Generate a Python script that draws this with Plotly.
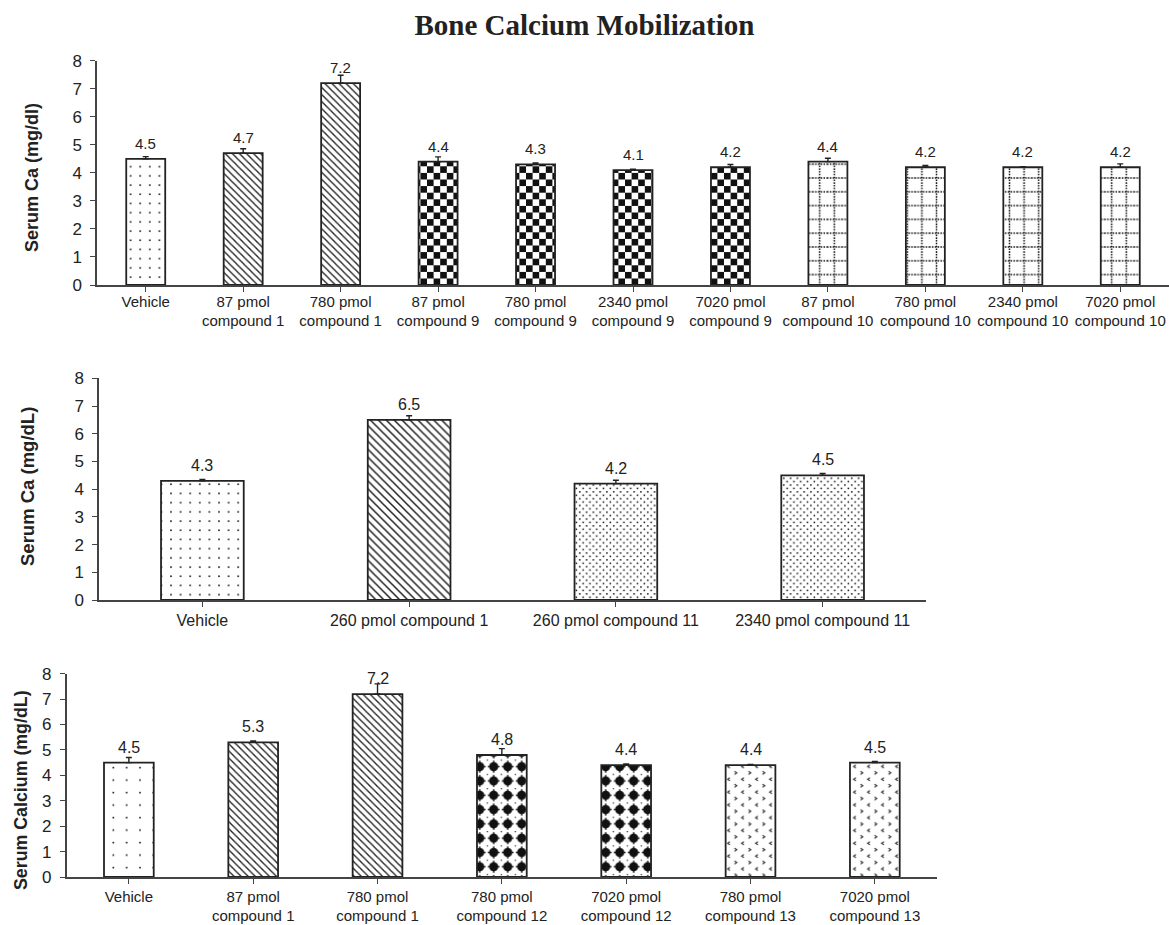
import json
import plotly.graph_objects as go

W, H = 1169, 925

# ---- Panel 1: compounds 1, 9, 10 ----
p1_labels = ["Vehicle", "87 pmol<br>compound 1", "780 pmol<br>compound 1",
             "87 pmol<br>compound 9", "780 pmol<br>compound 9",
             "2340 pmol<br>compound 9", "7020 pmol<br>compound 9",
             "87 pmol<br>compound 10", "780 pmol<br>compound 10",
             "2340 pmol<br>compound 10", "7020 pmol<br>compound 10"]
p1_values = [4.5, 4.7, 7.2, 4.4, 4.3, 4.1, 4.2, 4.4, 4.2, 4.2, 4.2]
p1_errors = [0.08, 0.16, 0.28, 0.17, 0.05, 0.03, 0.10, 0.12, 0.06, 0.02, 0.12]
p1_fills = ["dots", "stripes", "stripes", "checker", "checker", "checker",
            "checker", "dotgrid", "dotgrid", "dotgrid", "dotgrid"]

# ---- Panel 2: compounds 1, 11 ----
p2_labels = ["Vehicle", "260 pmol compound 1", "260 pmol compound 11",
             "2340 pmol compound 11"]
p2_values = [4.3, 6.5, 4.2, 4.5]
p2_errors = [0.05, 0.15, 0.12, 0.07]
p2_fills = ["dots", "stripes_wide", "fine_dots", "fine_dots"]

# ---- Panel 3: compounds 1, 12, 13 ----
p3_labels = ["Vehicle", "87 pmol<br>compound 1", "780 pmol<br>compound 1",
             "780 pmol<br>compound 12", "7020 pmol<br>compound 12",
             "780 pmol<br>compound 13", "7020 pmol<br>compound 13"]
p3_values = [4.5, 5.3, 7.2, 4.8, 4.4, 4.4, 4.5]
p3_errors = [0.20, 0.05, 0.40, 0.25, 0.05, 0.03, 0.05]
p3_fills = ["dots_wide", "stripes", "stripes", "blobs", "blobs",
            "chevrons", "chevrons"]

INK = "#222222"
AXIS = "#444444"
FONT = "Arial, 'Liberation Sans', sans-serif"

# fill styles: native plotly pattern (shape, size, solidity) plus a unique
# background colour that tags the tile for the custom textures below
fill_styles = {
    "stripes":      dict(shape="\\", size=5.0, solidity=0.27, bg="#ffffff"),
    "stripes_wide": dict(shape="\\", size=5.6, solidity=0.27, bg="#ffffff"),
    "dots":         dict(shape=".", size=9, solidity=0.05, bg="#fffffe"),
    "dots_wide":    dict(shape=".", size=9, solidity=0.05, bg="#fffeff"),
    "checker":      dict(shape=".", size=9, solidity=0.05, bg="#feffff"),
    "dotgrid":      dict(shape=".", size=9, solidity=0.05, bg="#fefeff"),
    "fine_dots":    dict(shape=".", size=9, solidity=0.05, bg="#fffefe"),
    "blobs":        dict(shape=".", size=9, solidity=0.05, bg="#fefefe"),
    "chevrons":     dict(shape=".", size=9, solidity=0.05, bg="#fdfefe"),
}

# custom SVG tiles for textures plotly has no built-in shape for
custom_tiles = {
    "dots": (9.6, 9.2,
             '<rect width="9.6" height="9.2" fill="#fff"/>'
             '<rect x="4" y="4" width="1.6" height="1.6" fill="#1a1a1a"/>'),
    "dots_wide": (13.3, 12.5,
                  '<rect width="13.3" height="12.5" fill="#fff"/>'
                  '<rect x="6" y="5.6" width="1.6" height="1.6" fill="#1a1a1a"/>'),
    "checker": (13.2, 13.2,
                '<rect width="13.2" height="13.2" fill="#fff"/>'
                '<rect width="6.6" height="6.6" fill="#111"/>'
                '<rect x="6.6" y="6.6" width="6.6" height="6.6" fill="#111"/>'),
    "dotgrid": (14.6, 13.8,
                '<rect width="14.6" height="13.8" fill="#fff"/>'
                '<path d="M7.3,0V13.8M0,6.9H14.6" stroke="#111" stroke-width="1.5" '
                'stroke-dasharray="1.5,1.3" fill="none"/>'),
    "fine_dots": (6.8, 6.8,
                  '<rect width="6.8" height="6.8" fill="#fff"/>'
                  '<rect x="0.6" y="0.6" width="1.5" height="1.5" fill="#111"/>'
                  '<rect x="4" y="4" width="1.5" height="1.5" fill="#111"/>'),
    "blobs": (14, 14.3,
              '<rect width="14" height="14.3" fill="#fff"/>'
              '<circle cx="7" cy="7.15" r="4.6" fill="#111"/>'
              '<path d="M7,1.3V13M1.2,7.15H12.8" stroke="#111" stroke-width="1.5"/>'
              '<rect x="0" y="0" width="1.2" height="1.2" fill="#222"/>'),
    "chevrons": (14, 12.8,
                 '<rect width="14" height="12.8" fill="#fff"/>'
                 '<path d="M5.2,1.6L3,3.2L5.2,4.8M9.8,8L12,9.6L9.8,11.2" '
                 'stroke="#222" stroke-width="1.2" fill="none"/>'),
}


def hex_to_rgb_key(h):
    h = h.lstrip("#")
    return "rgb(%d,%d,%d)" % (int(h[0:2], 16), int(h[2:4], 16), int(h[4:6], 16))


tiles_js = {}
for name, (tw, th, svg) in custom_tiles.items():
    tiles_js[hex_to_rgb_key(fill_styles[name]["bg"])] = {"w": tw, "h": th, "svg": svg}

# pixel geometry of the three panels -> paper domains
panels = [
    dict(labels=p1_labels, values=p1_values, errors=p1_errors, fills=p1_fills,
         x0=97, x1=1169, y0=285, y8=60.7, xstand=-3, xfont=15, vfont=15),
    dict(labels=p2_labels, values=p2_values, errors=p2_errors, fills=p2_fills,
         x0=99, x1=926, y0=600, y8=378.3, xstand=0, xfont=16, vfont=16),
    dict(labels=p3_labels, values=p3_values, errors=p3_errors, fills=p3_fills,
         x0=66.7, x1=937, y0=877, y8=673.7, xstand=0, xfont=15, vfont=16),
]

fig = go.Figure()
annotations = []

for k, p in enumerate(panels, start=1):
    xa = "x" if k == 1 else "x%d" % k
    ya = "y" if k == 1 else "y%d" % k
    styles = [fill_styles[f] for f in p["fills"]]
    n = len(p["labels"])
    fig.add_trace(go.Bar(
        x=list(range(n)),
        y=p["values"],
        width=0.4,
        xaxis=xa, yaxis=ya,
        marker=dict(
            color="white",
            line=dict(color=INK, width=1.8),
            pattern=dict(
                shape=[s["shape"] for s in styles],
                size=[s["size"] for s in styles],
                solidity=[s["solidity"] for s in styles],
                bgcolor=[s["bg"] for s in styles],
                fgcolor=INK,
                fillmode="replace",
            ),
        ),
        error_y=dict(type="data", symmetric=False, array=p["errors"],
                     arrayminus=[0] * n, color=INK, thickness=1.4, width=3),
        showlegend=False,
        hoverinfo="skip",
    ))
    for i, v in enumerate(p["values"]):
        annotations.append(dict(
            x=i, y=v, xref=xa, yref=ya, text="%.1f" % v, showarrow=False,
            yanchor="bottom", yshift=5,
            font=dict(family=FONT, size=p["vfont"], color=INK),
        ))

    dom_x = [p["x0"] / W, min(p["x1"] / W, 1.0)]
    dom_y = [(H - p["y0"]) / H, (H - p["y8"]) / H]
    xkey = "xaxis" if k == 1 else "xaxis%d" % k
    ykey = "yaxis" if k == 1 else "yaxis%d" % k
    fig.update_layout(**{
        xkey: dict(
            domain=dom_x, anchor=ya, range=[-0.5, n - 0.5], automargin=False,
            tickmode="array", tickvals=list(range(n)), ticktext=p["labels"],
            tickson="boundaries", ticks="outside", ticklen=5, tickwidth=1.3,
            tickcolor=AXIS, showline=True, linecolor=AXIS, linewidth=1.5,
            showgrid=False, zeroline=False, fixedrange=True,
            ticklabelstandoff=p["xstand"],
            tickfont=dict(family=FONT, size=p["xfont"], color=INK),
        ),
        ykey: dict(
            domain=dom_y, anchor=xa, range=[0, 8], dtick=1, tick0=0,
            automargin=False,
            ticks="outside", ticklen=5, tickwidth=1.3, tickcolor=AXIS,
            showline=True, linecolor=AXIS, linewidth=1.5,
            showgrid=False, zeroline=False, fixedrange=True,
            ticklabelstandoff=5,
            tickfont=dict(family=FONT, size=17, color=INK),
        ),
    })

# y-axis titles
for text, xp, yp, size in [("Serum Ca (mg/dl)", 32, 178, 18),
                           ("Serum Ca (mg/dL)", 28, 487, 18.5),
                           ("Serum Calcium (mg/dL)", 21, 790, 17.8)]:
    annotations.append(dict(
        x=xp / W, y=(H - yp) / H, xref="paper", yref="paper",
        text="<b>%s</b>" % text, textangle=-90, showarrow=False,
        xanchor="center", yanchor="middle",
        font=dict(family=FONT, size=size, color=INK),
    ))

fig.update_layout(
    template="none",
    width=W, height=H,
    margin=dict(l=0, r=0, t=0, b=0, autoexpand=False),
    paper_bgcolor="white", plot_bgcolor="white",
    title=dict(text="<b>Bone Calcium Mobilization</b>", x=0.5, xanchor="center",
               y=(H - 25) / H, yanchor="middle",
               font=dict(family="'Liberation Serif', 'Times New Roman', serif",
                         size=29, color=INK)),
    annotations=annotations,
)

post_js = """
(function(){
  var gd = document.getElementById('{plot_id}');
  var tiles = TILES;
  function apply(){
    var pats = gd.querySelectorAll('pattern');
    for (var i = 0; i < pats.length; i++) {
      var p = pats[i];
      if (p.getAttribute('data-tile')) continue;
      var r = p.querySelector('rect');
      if (!r) continue;
      var key = (r.getAttribute('fill') || '').replace(/\\s/g, '');
      var t = tiles[key];
      if (!t) continue;
      p.setAttribute('width', t.w);
      p.setAttribute('height', t.h);
      p.removeAttribute('patternTransform');
      p.innerHTML = t.svg;
      p.setAttribute('data-tile', '1');
    }
  }
  apply();
  gd.on('plotly_afterplot', apply);
})();
""".replace("TILES", json.dumps(tiles_js))

fig.write_html("out.html", post_script=post_js, config={"displayModeBar": False})
